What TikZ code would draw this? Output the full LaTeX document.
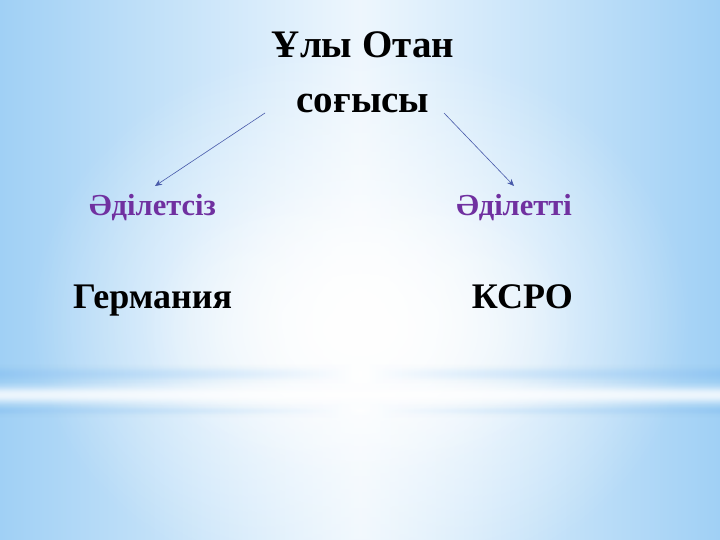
\documentclass[tikz,border=0pt]{standalone}
\usepackage{fontspec}
\setmainfont{Liberation Serif}
\usetikzlibrary{arrows.meta,fadings}

\definecolor{bgblue}{RGB}{160,208,245}
\definecolor{bgdeep}{RGB}{145,198,242}
\definecolor{arrblue}{RGB}{72,90,170}
\definecolor{kpurple}{RGB}{112,48,160}

\tikzfading[name=glow, inner color=transparent!0, outer color=transparent!100]

\begin{document}
\begin{tikzpicture}[x=1pt,y=-1pt,
  big/.style={font=\bfseries\fontsize{39}{55}\selectfont, inner sep=0pt},
  country/.style={font=\bfseries\fontsize{36}{40}\selectfont, inner sep=0pt},
  side/.style={font=\bfseries\fontsize{30.5}{34}\selectfont, text=kpurple, inner sep=0pt},
  link/.style={arrblue, line width=0.6pt, -{Stealth[length=7pt,width=6pt]}}]
  \useasboundingbox (0,0) rectangle (720,540);

  % background
  \begin{scope}
    \clip (0,0) rectangle (720,540);
    \shade[left color=bgblue, right color=bgblue, middle color=white!82!bgblue] (0,0) rectangle (720,540);
    \fill[white, path fading=glow, fit fading=true] (360,320) ellipse (330 and 280);
    \fill[white, path fading=glow, fit fading=true, opacity=0.8] (360,330) ellipse (220 and 150);
    % stripes
    \foreach \dy [evaluate=\dy as \op using {0.7*exp(-(\dy/5)^2)}] in {-9,...,9}
      \shade[left color=bgdeep, right color=bgdeep, middle color=white, opacity=\op] (0,374+\dy-0.6) rectangle (720,374+\dy+0.6);
    \foreach \dy [evaluate=\dy as \op using {0.55*exp(-(\dy/7)^2)}] in {-12,...,12}
      \fill[white, opacity=\op] (0,395+\dy-0.6) rectangle (720,395+\dy+0.6);
    \foreach \dy [evaluate=\dy as \op using {0.5*exp(-(\dy/3)^2)}] in {-6,...,6}
      \shade[left color=bgdeep, right color=bgdeep, middle color=white, opacity=\op] (0,411+\dy-0.6) rectangle (720,411+\dy+0.6);
  \end{scope}

  \node[big, align=center, anchor=base] (title) at (363,113) {Ұлы Отан\\соғысы};

  \node[side, anchor=base west] (unjust) at (89,215) {Әділетсіз};
  \node[side, anchor=base east] (just) at (572,215) {Әділетті};

  \node[country, anchor=base west] (germ) at (73,308) {Германия};
  \node[country, anchor=base east] (ussr) at (573,308) {КСРО};

  \coordinate (ls) at (265,113);
  \coordinate (le) at (155,186);
  \coordinate (rs) at (444,113);
  \coordinate (re) at (514,186);

  \draw[link] (ls) -- (le);
  \draw[link] (rs) -- (re);
\end{tikzpicture}
\end{document}
